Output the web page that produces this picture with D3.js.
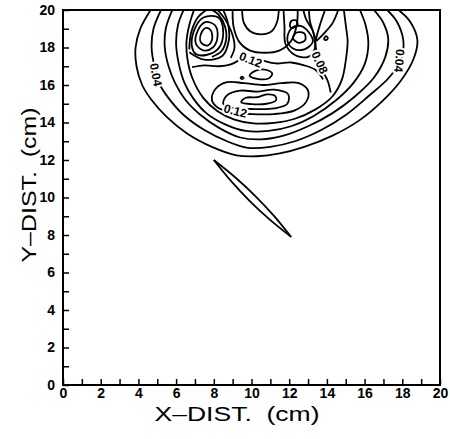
<!DOCTYPE html>
<html>
<head>
<meta charset="utf-8">
<script src="https://cdn.jsdelivr.net/npm/d3@7"></script>
<style>
body { margin: 0; background: #fff; }
svg { display: block; }
.tick text { font-family: "Liberation Sans", Arial, sans-serif; font-size: 14px; font-weight: bold; fill: #000; }
.axis-label { font-family: "Liberation Sans", Arial, sans-serif; font-size: 20px; fill: #000; white-space: pre; }
.clabel { font-family: "Liberation Sans", Arial, sans-serif; font-size: 12px; font-weight: bold; fill: #000;
  stroke: #fff; stroke-width: 4px; paint-order: stroke; }
</style>
</head>
<body>
<div id="main"></div>
<script>
// axis ticks (cm)
const minorTicks = [0,1,2,3,4,5,6,7,8,9,10,11,12,13,14,15,16,17,18,19,20];
const labelTicks = [0,2,4,6,8,10,12,14,16,18,20];

// contour lines, [x, y] in cm
const ringA = [[4.65,20],[4.1,19],[3.85,18],[3.9,17],[4.2,16],[4.7,15.2],[5.5,14.3],[6.6,13.4],[7.9,12.7],[9.2,12.25],[10.3,12.2],[11.5,12.35],[12.8,12.7],[14.3,13.3],[15.7,14.1],[16.9,15.1],[17.9,16.2],[18.6,17.4],[18.8,18.4],[18.4,19.4],[17.8,20]];
const ringB = [[5.2,20],[4.8,19],[4.7,18],[4.85,17],[5.15,16],[5.6,15.3],[6.4,14.4],[7.5,13.6],[8.7,13.0],[9.8,12.65],[11.0,12.7],[12.3,13.0],[13.7,13.6],[15.0,14.4],[16.2,15.4],[17.3,16.4],[17.95,17.4],[18.05,18.4],[17.7,19.4],[17.2,20]];
const ringC = [[5.8,20],[5.45,19],[5.4,18],[5.6,17],[5.95,16.1],[6.5,15.2],[7.3,14.4],[8.3,13.7],[9.4,13.2],[10.5,13.1],[11.7,13.3],[13.0,13.8],[14.3,14.5],[15.5,15.4],[16.5,16.4],[17.1,17.5],[17.25,18.5],[16.95,19.4],[16.5,20]];
const ringD = [[6.4,20],[6.1,19.2],[6.0,18.2],[6.15,17.1],[6.45,16.1],[6.9,15.3],[7.6,14.5],[8.6,13.9],[9.7,13.55],[10.9,13.55],[12.1,13.8],[13.3,14.35],[14.5,15.2],[15.4,16.1],[16.0,17.1],[16.2,18.2],[16.05,19.2],[15.75,20]];
const ringE = [[6.95,20],[6.7,19.2],[6.55,18.3],[6.6,17.4],[6.85,16.4],[7.45,15.3],[8.2,14.6],[9.1,14.15],[10.1,13.95],[11.2,13.98],[12.3,14.2],[13.4,14.7],[14.3,15.4],[14.8,16.3],[15.0,17.3],[15.1,18.3],[15.0,19.2],[14.9,20]];
const ringF = [[7.9,15.2],[8.1,15.8],[8.7,16.15],[9.6,16.1],[10.6,16.0],[11.6,16.1],[12.5,16.1],[13.0,15.7],[12.9,15.1],[12.3,14.65],[11.2,14.45],[10.0,14.45],[8.9,14.55],[8.2,14.8]];
const ringG = [[8.5,15.0],[8.7,15.45],[9.4,15.7],[10.3,15.65],[11.2,15.75],[11.95,15.5],[11.9,15.0],[11.2,14.75],[10.0,14.72],[9.0,14.78]];
const ringH = [[9.45,15.08],[9.7,15.32],[10.3,15.35],[10.8,15.5],[11.25,15.42],[11.3,15.18],[10.8,15.0],[10.0,14.98]];
const ovalMid = [[9.9,16.5],[10.2,16.75],[10.8,16.8],[11.1,16.6],[10.9,16.35],[10.3,16.33]];
const dotMid = [[9.42,16.38],[9.5,16.45],[9.58,16.38],[9.5,16.31]];
const outerU = [[9.0,20],[9.05,19.1],[9.35,18.3],[9.9,17.85],[10.7,17.72],[11.5,17.85],[12.1,18.35],[12.4,19.2],[12.45,20]];
const innerU = [[9.5,20],[9.6,19.3],[9.95,18.85],[10.5,18.7],[11.05,18.85],[11.35,19.35],[11.45,20]];
const waveLeft = [[6.85,16.95],[7.5,17.05],[8.3,17.0],[8.9,17.1],[9.3,17.3]];
const waveRight = [[10.6,17.3],[11.3,17.15],[12.1,17.2],[12.8,17.05],[13.4,16.8],[13.8,16.3]];
const leftL1 = [[7.3,18.3],[7.35,18.8],[7.6,19.05],[7.85,18.9],[7.9,18.4],[7.65,18.1]];
const leftL2 = [[7.05,18.2],[7.15,18.9],[7.55,19.35],[8.05,19.2],[8.2,18.6],[7.95,18.0],[7.45,17.85]];
const leftL3 = [[6.85,18.0],[6.95,18.9],[7.45,19.6],[8.25,19.6],[8.5,18.8],[8.25,17.95],[7.6,17.6],[7.05,17.65]];
const leftO1 = [[6.7,17.75],[7.5,17.35],[8.45,17.55],[8.8,18.4],[8.75,19.3],[8.5,20]];
const leftO2 = [[6.7,17.9],[6.8,18.8],[7.15,19.6],[7.6,20]];
const leftO3 = [[7.9,20],[8.25,19.75],[8.6,19.1],[8.65,18.4],[8.4,17.8],[7.9,17.5]];
const leftO4 = [[8.2,20],[8.6,19.5],[8.95,18.8],[9.1,18.0],[8.9,17.45]];
const rightR1 = [[12.2,18.5],[12.4,18.8],[12.8,18.75],[12.85,18.4],[12.5,18.25]];
const rightR2 = [[11.9,18.4],[12.1,19.0],[12.6,19.15],[13.05,18.8],[13.25,18.3],[12.8,17.9],[12.2,17.95]];
const rightR3 = [[11.7,20],[11.75,19.1],[11.8,18.2],[12.3,17.6],[13.0,17.5],[13.35,17.9],[13.3,18.7],[13.1,19.4],[13.05,20]];
const rightNine = [[12.05,19.1],[12.1,19.4],[12.35,19.45],[12.45,19.2],[12.2,19.05]];
const line08Low = [[14.2,15.6],[14.05,16.2],[13.85,16.6]];
const line08High = [[13.45,17.75],[13.4,18.3],[13.6,19.1],[13.9,20]];
const rightO1 = [[14.6,20],[14.3,19.3],[13.8,18.7],[13.45,18.35]];
const rightO2 = [[12.75,20],[12.9,19.5],[13.25,18.9],[13.4,18.4]];
const rightDot = [[13.85,18.45],[13.95,18.6],[14.05,18.5],[13.95,18.4]];

// the crack: two edges of a thin lens
const crackUpper = [[8.0,12.0],[9.13,11.08],[10.19,10.09],[11.18,9.03],[12.1,7.9]];
const crackLower = [[8.0,12.0],[8.92,10.87],[9.91,9.81],[10.97,8.82],[12.1,7.9]];

// contour labels: text, x, y (cm), angle
const labelText = ["0.04", "0.04", "0.08", "0.12", "0.12"];
const labelX = [4.93, 17.85, 13.62, 9.95, 9.15];
const labelY = [16.55, 17.3, 17.2, 17.35, 14.62];
const labelAngle = [80, 95, 65, 22, 15];

const openLines = [ringA, ringB, ringC, ringD, ringE, outerU, innerU, waveLeft, waveRight,
    leftO1, leftO2, leftO3, leftO4, rightR3, line08Low, line08High, rightO1, rightO2,
    crackUpper, crackLower];
const closedLines = [ringF, ringG, ringH, ovalMid, dotMid, leftL1, leftL2, leftL3,
    rightR1, rightR2, rightNine, rightDot];

// dimensions
const svg_width = 450, svg_height = 439;
const plot = {left: 63, right: 440, top: 10, bottom: 385};

const svg = d3.select("#main").append("svg")
    .attr("width", svg_width)
    .attr("height", svg_height);

const xScale = d3.scaleLinear().domain([0, 20]).range([plot.left, plot.right]);
const yScale = d3.scaleLinear().domain([0, 20]).range([plot.bottom, plot.top]);

// x-axis, ticks point inward
const xAxis = svg.append("g")
    .attr("transform", `translate(0,${plot.bottom})`)
    .call(d3.axisBottom(xScale).tickValues(minorTicks).tickSizeInner(-6).tickSizeOuter(0).tickPadding(3)
        .tickFormat(d => labelTicks.includes(d) ? d : ""));
xAxis.select(".domain").remove();
xAxis.selectAll(".tick line").attr("stroke-width", 1.5);

// y-axis
const yAxis = svg.append("g")
    .attr("transform", `translate(${plot.left},0)`)
    .call(d3.axisLeft(yScale).tickValues(minorTicks).tickSizeInner(-6).tickSizeOuter(0).tickPadding(8)
        .tickFormat(d => labelTicks.includes(d) ? d : ""));
yAxis.select(".domain").remove();
yAxis.selectAll(".tick line").attr("stroke-width", 1.5);

// frame
svg.append("rect")
    .attr("x", plot.left).attr("y", plot.top)
    .attr("width", plot.right - plot.left).attr("height", plot.bottom - plot.top)
    .attr("fill", "none").attr("stroke", "#000").attr("stroke-width", 2);

// contours
const openPath = d3.line()
    .x(d => xScale(d[0])).y(d => yScale(d[1]))
    .curve(d3.curveCatmullRom.alpha(0.5));
const closedPath = d3.line()
    .x(d => xScale(d[0])).y(d => yScale(d[1]))
    .curve(d3.curveCatmullRomClosed.alpha(0.5));

svg.append("defs").append("clipPath").attr("id", "clip")
    .append("rect")
    .attr("x", plot.left).attr("y", plot.top)
    .attr("width", plot.right - plot.left).attr("height", plot.bottom - plot.top);
const g = svg.append("g").attr("clip-path", "url(#clip)");

g.selectAll(".open").data(openLines).enter().append("path")
    .attr("class", "open")
    .attr("d", openPath)
    .attr("fill", "none").attr("stroke", "#000").attr("stroke-width", 1.8)
    .attr("stroke-linejoin", "round");
g.selectAll(".closed").data(closedLines).enter().append("path")
    .attr("class", "closed")
    .attr("d", closedPath)
    .attr("fill", "none").attr("stroke", "#000").attr("stroke-width", 1.8);

// contour labels
svg.selectAll(".clabel").data(labelText).enter().append("text")
    .attr("class", "clabel")
    .attr("text-anchor", "middle")
    .attr("dy", "0.35em")
    .attr("transform", (d, i) => `translate(${xScale(labelX[i])},${yScale(labelY[i])}) rotate(${labelAngle[i]})`)
    .text(d => d);

// axis titles
svg.append("text")
    .attr("class", "axis-label")
    .attr("x", 237).attr("y", 421)
    .attr("text-anchor", "middle")
    .attr("textLength", 165)
    .attr("lengthAdjust", "spacingAndGlyphs")
    .text("X\u2013DIST.  (cm)");
svg.append("text")
    .attr("class", "axis-label")
    .attr("transform", "translate(36,185) rotate(-90)")
    .attr("text-anchor", "middle")
    .attr("textLength", 155)
    .attr("lengthAdjust", "spacingAndGlyphs")
    .text("Y\u2013DIST.  (cm)");
</script>
</body>
</html>
